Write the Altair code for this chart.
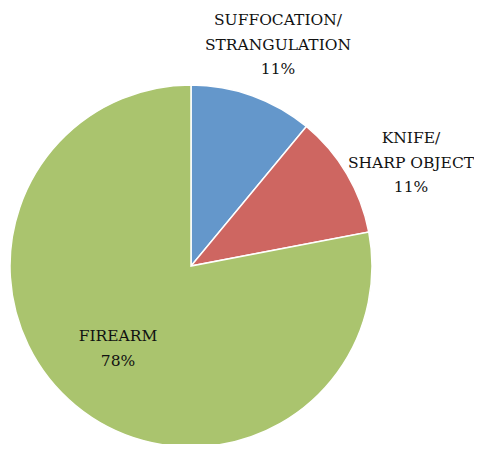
import altair as alt
import pandas as pd

categories = ["Suffocation/ Strangulation", "Knife/ Sharp Object", "Firearm"]
label_lines = [["SUFFOCATION/", "STRANGULATION"], ["KNIFE/", "SHARP OBJECT"], ["FIREARM"]]
values = [11, 11, 78]
colors = ["#6497CB", "#CE6661", "#AAC46E"]

# layout constants (pixels)
cx, cy = 183, 258
radius = 181
label_offsets = [(87, -246), (220, -128), (-73, 70)]

df = pd.DataFrame({
    "category": categories,
    "value": values,
    "order": list(range(len(categories))),
})

labels = pd.DataFrame({
    "category": categories,
    "text": [lines + [f"{v}%"] for lines, v in zip(label_lines, values)],
    "x": [cx + dx for dx, dy in label_offsets],
    "y": [cy + dy for dx, dy in label_offsets],
})

pie = alt.Chart(df).mark_arc(outerRadius=radius, stroke="white", strokeWidth=1.5).encode(
    theta=alt.Theta("value:Q", stack=True),
    color=alt.Color("category:N", scale=alt.Scale(domain=categories, range=colors), legend=None),
    order=alt.Order("order:Q"),
    x=alt.value(cx),
    y=alt.value(cy),
)

text = alt.Chart(labels).mark_text(
    font="DejaVu Serif", fontSize=15.5, lineHeight=24.5, align="center", baseline="middle", color="#111111"
).encode(
    x=alt.X("x:Q", scale=None),
    y=alt.Y("y:Q", scale=None),
    text=alt.Text("text"),
)

chart = alt.layer(pie, text).properties(
    width=466, height=436, autosize="none", padding=0
).configure_view(stroke=None)

chart.save("out.html", embed_options={"renderer": "svg", "actions": False})
